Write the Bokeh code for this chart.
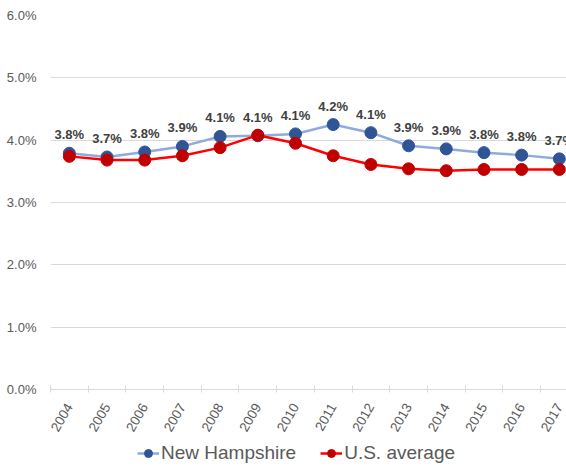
import math
from bokeh.plotting import figure
from bokeh.layouts import column
from bokeh.core.properties import value
from bokeh.models import (ColumnDataSource, Range1d, FixedTicker, PrintfTickFormatter,
                          Legend, LegendItem)
from bokeh.embed import file_html
from bokeh.resources import INLINE

years = [2004, 2005, 2006, 2007, 2008, 2009, 2010, 2011, 2012, 2013, 2014, 2015, 2016, 2017]
year_labels = [str(y) for y in years]
new_hampshire = [3.79, 3.73, 3.81, 3.90, 4.06, 4.07, 4.10, 4.25, 4.12, 3.91, 3.86, 3.80, 3.76, 3.70]
us_average = [3.74, 3.68, 3.68, 3.75, 3.88, 4.08, 3.95, 3.75, 3.61, 3.54, 3.51, 3.53, 3.53, 3.53]
nh_labels = ["3.8%", "3.7%", "3.8%", "3.9%", "4.1%", "4.1%", "4.1%", "4.2%", "4.1%",
             "3.9%", "3.9%", "3.8%", "3.8%", "3.7%"]
series_names = ["New Hampshire", "U.S. average"]
y_ticks = [0, 1, 2, 3, 4, 5, 6]

FONT = "Liberation Sans"
GRID = "#d9d9d9"
TXT = "#595959"
NH_LINE, NH_MARK = "#8faadc", "#2f5597"
US_LINE, US_MARK = "#ff0000", "#c00000"

src = ColumnDataSource(dict(x=years, nh=new_hampshire, us=us_average, lab=nh_labels))

fig = figure(frame_width=516, frame_height=374, output_backend="svg", toolbar_location=None,
             x_range=Range1d(2003.5, 2017.19), y_range=Range1d(0, 6),
             min_border_left=50, min_border_right=0, min_border_top=15, min_border_bottom=51)
fig.outline_line_color = None
fig.background_fill_color = "white"
fig.border_fill_color = "white"

# grid
fig.xgrid.grid_line_color = None
fig.ygrid.grid_line_color = GRID
fig.ygrid.grid_line_width = 1

# y axis
fig.yaxis.ticker = FixedTicker(ticks=y_ticks)
fig.yaxis.formatter = PrintfTickFormatter(format="%.1f%%")
fig.yaxis.axis_line_color = None
fig.yaxis.major_tick_line_color = None
fig.yaxis.minor_tick_line_color = None
fig.yaxis.major_label_text_font = FONT
fig.yaxis.major_label_text_font_size = "13px"
fig.yaxis.major_label_text_color = TXT
fig.yaxis.major_label_standoff = 8

# x axis
fig.xaxis.ticker = FixedTicker(ticks=years, minor_ticks=[y - 0.5 for y in years] + [years[-1] + 0.5])
fig.xaxis.major_label_overrides = {y: l for y, l in zip(years, year_labels)}
fig.xaxis.axis_line_color = GRID
fig.xaxis.major_tick_line_color = None
fig.xaxis.minor_tick_line_color = GRID
fig.xaxis.minor_tick_in = 4
fig.xaxis.minor_tick_out = 3
fig.xaxis.major_tick_in = 0
fig.xaxis.major_tick_out = 0
fig.xaxis.major_label_orientation = math.radians(60)
fig.xaxis.major_label_text_font = FONT
fig.xaxis.major_label_text_font_size = "13.5px"
fig.xaxis.major_label_text_color = TXT
fig.xaxis.major_label_standoff = 12

# series
fig.line("x", "nh", source=src, line_color=NH_LINE, line_width=2.5)
fig.scatter("x", "nh", source=src, size=12, fill_color=NH_MARK, line_color=NH_MARK)
fig.line("x", "us", source=src, line_color=US_LINE, line_width=2.5)
fig.scatter("x", "us", source=src, size=12, fill_color=US_MARK, line_color=US_MARK)

fig.text("x", "nh", text="lab", source=src, text_align="center", text_baseline="bottom",
         y_offset=-11, text_font=value(FONT), text_font_size=value("13px"),
         text_font_style="bold", text_color="#404040")

# legend strip below the chart (its sample glyphs sit outside the visible range)
leg = figure(width=566, height=26, output_backend="svg", toolbar_location=None,
             x_range=Range1d(0, 1), y_range=Range1d(0, 1),
             x_axis_type=None, y_axis_type=None,
             min_border_left=0, min_border_right=0, min_border_top=0, min_border_bottom=0)
leg.grid.visible = False
leg.outline_line_color = None
hidden = ColumnDataSource(dict(x=[-5, -4], y=[-5, -5]))
ln1 = leg.line("x", "y", source=hidden, line_color=NH_LINE, line_width=2.5)
mk1 = leg.scatter("x", "y", source=hidden, size=12, fill_color=NH_MARK, line_color=NH_MARK)
ln2 = leg.line("x", "y", source=hidden, line_color=US_LINE, line_width=2.5)
mk2 = leg.scatter("x", "y", source=hidden, size=12, fill_color=US_MARK, line_color=US_MARK)
legend = Legend(items=[LegendItem(label=series_names[0], renderers=[ln1, mk1]),
                       LegendItem(label=series_names[1], renderers=[ln2, mk2])],
                orientation="horizontal", location=(87, 2),
                label_text_font=FONT, label_text_font_size="19px", label_text_color=TXT,
                glyph_width=22, label_standoff=2, spacing=24, padding=0, margin=0,
                border_line_color=None, background_fill_alpha=0)
leg.add_layout(legend, "center")

p = column(fig, leg, spacing=0)

open("out.html", "w").write(file_html(p, INLINE))
